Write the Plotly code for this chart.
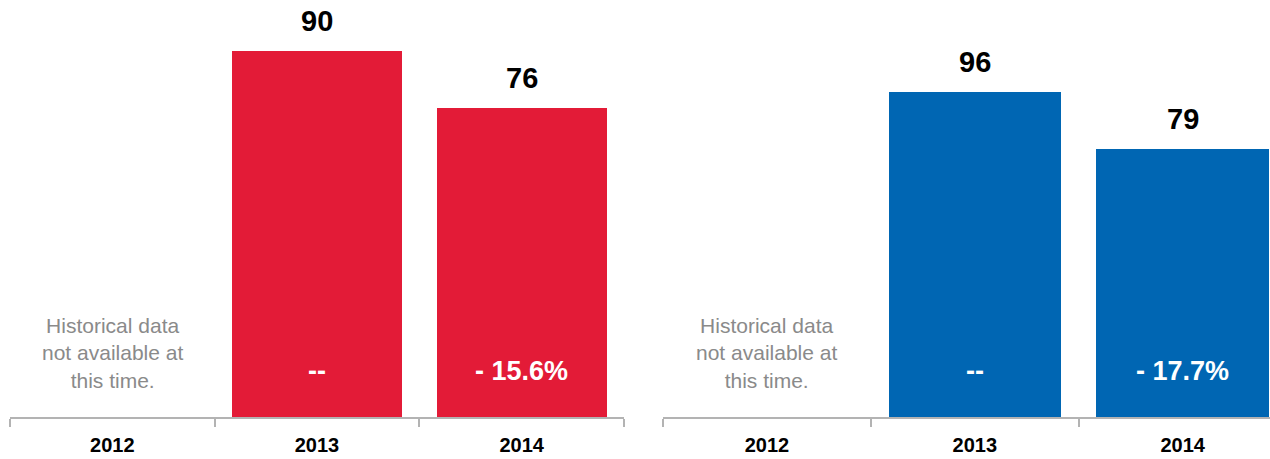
import plotly.graph_objects as go
from plotly.subplots import make_subplots

# Data
years = ["2012", "2013", "2014"]
red_values = [None, 90, 76]
blue_values = [None, 96, 79]
red_changes = ["", "--", "- 15.6%"]
blue_changes = ["", "--", "- 17.7%"]
missing_note = "Historical data<br>not available at<br>this time."

RED = "#E31B37"
BLUE = "#0066B3"
AXIS_GREY = "#B3B3B3"
FONT = "Liberation Sans, Arial, Helvetica, sans-serif"

W, H = 1270, 459
BASE = 417  # pixel row of the baseline

fig = make_subplots(rows=1, cols=2)

fig.add_trace(go.Bar(x=years, y=red_values, marker_color=RED, width=0.83,
                     marker_line_width=0, hoverinfo="skip"), row=1, col=1)
fig.add_trace(go.Bar(x=years, y=blue_values, marker_color=BLUE, width=0.83,
                     marker_line_width=0, hoverinfo="skip"), row=1, col=2)

annotations = []
for xref, yref, vals, changes in (("x", "y", red_values, red_changes),
                                  ("x2", "y2", blue_values, blue_changes)):
    for i, (v, ch) in enumerate(zip(vals, changes)):
        # numeric-looking category names would be read as positions,
        # so annotations are placed by category index
        if v is not None:
            annotations.append(dict(
                x=i, y=v, xref=xref, yref=yref, text=f"<b>{v}</b>",
                showarrow=False, yanchor="bottom", yshift=12,
                font=dict(family=FONT, size=29, color="#000000")))
            annotations.append(dict(
                x=i, y=(BASE - 371) / BASE, xref=xref, yref="paper",
                text=f"<b>{ch}</b>", showarrow=False, yanchor="middle",
                font=dict(family=FONT, size=27, color="#FFFFFF")))
        else:
            annotations.append(dict(
                x=i, y=(BASE - 353) / BASE, xref=xref, yref="paper",
                text=missing_note, showarrow=False, yanchor="middle",
                align="center",
                font=dict(family=FONT, size=21, color="#8A8A8A")))

xaxis_style = dict(
    type="category", showline=True, linecolor=AXIS_GREY, linewidth=2,
    ticks="outside", tickson="boundaries", ticklen=8, tickwidth=2,
    tickcolor=AXIS_GREY, showgrid=False, zeroline=False,
    tickfont=dict(family=FONT, size=20, color="#000000"),
    tickprefix="<b>", ticksuffix="</b>", ticklabelstandoff=9,
    fixedrange=True,
)
yaxis_style = dict(visible=False, showgrid=False, zeroline=False, fixedrange=True)

fig.update_layout(
    width=W, height=H,
    margin=dict(l=0, r=0, t=0, b=H - BASE),
    paper_bgcolor="white", plot_bgcolor="white",
    showlegend=False, bargap=0,
    annotations=annotations,
    xaxis=dict(**xaxis_style, domain=[10 / W, 624 / W], range=[-0.5, 2.5]),
    xaxis2=dict(**xaxis_style, domain=[663 / W, 1.0], range=[-0.5, 2.42]),
    yaxis=dict(**yaxis_style, range=[0, BASE / 4.065]),
    yaxis2=dict(**yaxis_style, range=[0, BASE / 3.387]),
)

fig.write_html("out.html", config={"displayModeBar": False})
